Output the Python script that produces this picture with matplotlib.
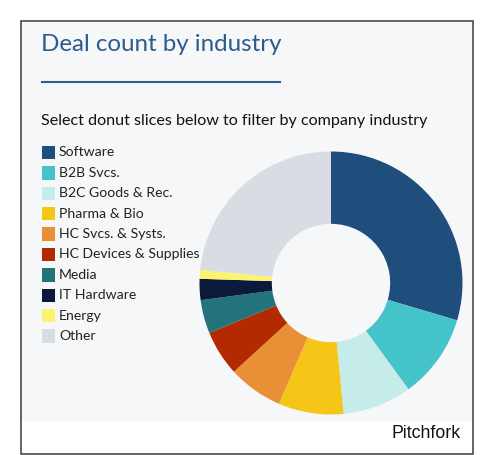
import matplotlib
matplotlib.use("Agg")
import matplotlib.pyplot as plt
from matplotlib.patches import Rectangle
from matplotlib.lines import Line2D

# ── Datos ─────────────────────────────────────────────────────────
industrias = ["Software", "B2B Svcs.", "B2C Goods & Rec.", "Pharma & Bio",
              "HC Svcs. & Systs.", "HC Devices & Supplies", "Media",
              "IT Hardware", "Energy", "Other"]
porcentajes = [29.6, 10.4, 8.5, 8.0, 6.75, 5.6, 4.1, 2.6, 1.1, 23.4]
colores = ["#1f4e7d", "#44c3c9", "#c6ecea", "#f5c518", "#e98f36",
           "#b32a00", "#22737a", "#0b1a3a", "#fcf46e", "#d9dde3"]

titulo = "Deal count by industry"
subtitulo = "Select donut slices below to filter by company industry"
fuente = "Pitchfork"

# ── Lienzo ────────────────────────────────────────────────────────
W, H = 495, 455
fig = plt.figure(figsize=(W / 100, H / 100), dpi=100, facecolor="white")

def px(x, y):
    """pixeles (origen arriba-izq) -> fracción de figura"""
    return x / W, 1 - y / H

# panel gris + marco
x0, y0 = px(22, 421)
fig.add_artist(Rectangle((x0, y0), 450 / W, 399 / H, transform=fig.transFigure,
                         facecolor="#f6f7f9", edgecolor="none", zorder=-5))
x0, y0 = px(21, 454)
fig.add_artist(Rectangle((x0, y0), 452 / W, 433 / H, transform=fig.transFigure,
                         facecolor="none", edgecolor="#3a3a3a", linewidth=1.1,
                         zorder=5))

# título y subrayado
fig.text(*px(41, 51), titulo, color="#2b5b8c", fontsize=17.4, family="Lato",
         va="baseline", ha="left")
xa, ya = px(42, 82)
xb, _ = px(280, 82)
fig.add_artist(Line2D([xa, xb], [ya, ya], transform=fig.transFigure,
                      color="#2c5d8f", linewidth=1.5))
fig.text(*px(41, 125), subtitulo, color="#111111", fontsize=11.6, family="Lato",
         va="baseline", ha="left")

# ── Donut ─────────────────────────────────────────────────────────
cx, cy, r = 331, 283, 131.5
ax = fig.add_axes([(cx - r) / W, (H - cy - r) / H, 2 * r / W, 2 * r / H])
ax.set_zorder(1)
ax.pie(porcentajes, colors=colores, startangle=90, counterclock=False,
       radius=1, wedgeprops=dict(width=0.55, edgecolor="none"))
ax.set_xlim(-1, 1)
ax.set_ylim(-1, 1)
ax.set_aspect("equal")
ax.set_axis_off()

# ── Leyenda ───────────────────────────────────────────────────────
lado = 13.5
for i, (nombre, col) in enumerate(zip(industrias, colores)):
    yc = 152.5 + i * 20.4
    xr, yr = px(41.5, yc + lado / 2)
    fig.add_artist(Rectangle((xr, yr), lado / W, lado / H,
                             transform=fig.transFigure, facecolor=col,
                             edgecolor="none", zorder=3))
    fig.text(*px(59, yc), nombre, color="#222222", fontsize=10.1, family="Lato",
             va="center", ha="left", zorder=6)

# fuente
fig.text(*px(461, 438), fuente, color="#111111", fontsize=12.8,
         family="Liberation Sans", va="baseline", ha="right")

fig.savefig("out.png", dpi=100, facecolor="white")
